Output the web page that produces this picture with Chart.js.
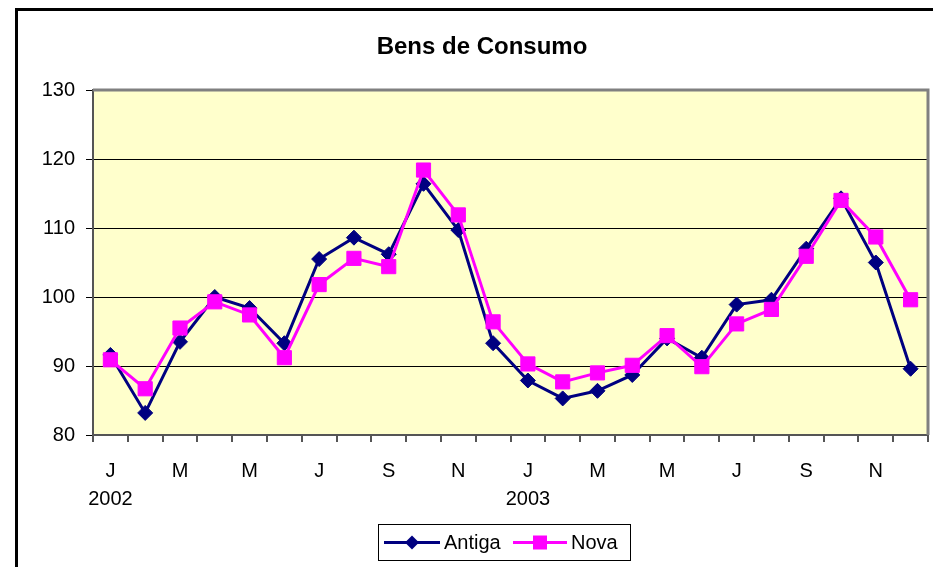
<!DOCTYPE html>
<html>
<head>
<meta charset="utf-8">
<script src="https://cdn.jsdelivr.net/npm/chart.js@4/dist/chart.umd.min.js"></script>
<style>
  html,body{margin:0;padding:0;background:#fff;}
  #wrap{width:933px;height:567px;position:relative;}
</style>
</head>
<body>
<div id="wrap"><canvas id="c" width="933" height="567"></canvas></div>
<script>
const chartTitle = 'Bens de Consumo';
const tickLabels = ['J','','M','','M','','J','','S','','N','','J','','M','','M','','J','','S','','N',''];
const yearLabels = ['2002','','','','','','','','','','','','2003','','','','','','','','','','',''];
const antiga = [91.6,83.2,93.5,100.0,98.4,93.3,105.5,108.6,106.2,116.4,109.7,93.3,87.9,85.3,86.4,88.7,94.0,91.2,98.9,99.6,107.0,114.3,105.0,89.6];
const nova   = [90.9,86.7,95.5,99.3,97.4,91.2,101.8,105.6,104.4,118.4,111.9,96.4,90.3,87.7,89.0,90.1,94.4,89.9,96.1,98.2,105.9,114.0,108.7,99.6];
const yMin = 80, yMax = 130, yStep = 10;

const FONT = "'Liberation Sans', Arial, sans-serif";

const framePlugin = {
  id: 'frame',
  beforeDraw(chart) {
    const {ctx, chartArea: a} = chart;
    ctx.save();
    ctx.fillStyle = '#ffffff';
    ctx.fillRect(0, 0, chart.width, chart.height);
    ctx.fillStyle = '#FFFFCC';
    ctx.fillRect(a.left, a.top, a.right - a.left, a.bottom - a.top);
    ctx.strokeStyle = '#000';
    ctx.lineWidth = 3;
    ctx.beginPath();
    ctx.moveTo(16.5, chart.height);
    ctx.lineTo(16.5, 9.5);
    ctx.lineTo(chart.width, 9.5);
    ctx.stroke();
    ctx.restore();
  },
  beforeDatasetsDraw(chart) {
    const {ctx, chartArea: a} = chart;
    ctx.save();
    ctx.strokeStyle = '#808080';
    ctx.lineWidth = 3;
    ctx.beginPath();
    ctx.moveTo(a.left, a.top);
    ctx.lineTo(a.right, a.top);
    ctx.lineTo(a.right, a.bottom);
    ctx.stroke();
    ctx.restore();
  },
  afterDraw(chart) {
    const {ctx} = chart;
    ctx.save();
    // title
    ctx.fillStyle = '#000';
    ctx.font = 'bold 24px ' + FONT;
    ctx.textAlign = 'center';
    ctx.textBaseline = 'middle';
    ctx.fillText(chartTitle, 482, 47);
    // legend
    const bx = 378.5, by = 524.5, bw = 252, bh = 36;
    ctx.fillStyle = '#fff';
    ctx.fillRect(bx, by, bw, bh);
    ctx.strokeStyle = '#000';
    ctx.lineWidth = 1;
    ctx.strokeRect(bx, by, bw, bh);
    const ly = by + bh / 2;
    const items = [
      {ds: chart.data.datasets[0], x0: 384, x1: 440, tx: 444},
      {ds: chart.data.datasets[1], x0: 513, x1: 567, tx: 571}
    ];
    ctx.font = '20px ' + FONT;
    ctx.textAlign = 'left';
    items.forEach(it => {
      ctx.strokeStyle = it.ds.borderColor;
      ctx.lineWidth = 3;
      ctx.beginPath();
      ctx.moveTo(it.x0, ly);
      ctx.lineTo(it.x1, ly);
      ctx.stroke();
      const cx = (it.x0 + it.x1) / 2;
      ctx.fillStyle = it.ds.pointBackgroundColor;
      ctx.beginPath();
      if (it.ds.pointStyle === 'rectRot') {
        const r = 7;
        ctx.moveTo(cx, ly - r); ctx.lineTo(cx + r, ly); ctx.lineTo(cx, ly + r); ctx.lineTo(cx - r, ly);
        ctx.closePath();
      } else {
        const s = 7;
        ctx.rect(cx - s, ly - s, 2 * s, 2 * s);
      }
      ctx.fill();
      ctx.fillStyle = '#000';
      ctx.fillText(it.ds.label, it.tx, ly + 1);
    });
    ctx.restore();
  }
};

new Chart(document.getElementById('c'), {
  type: 'line',
  data: {
    labels: tickLabels.map((t, i) => [t, yearLabels[i]]),
    datasets: [
      {
        label: 'Antiga',
        data: antiga,
        borderColor: '#000080',
        backgroundColor: '#000080',
        pointBackgroundColor: '#000080',
        pointBorderColor: '#000080',
        borderWidth: 3,
        pointStyle: 'rectRot',
        pointRadius: 7.5,
        pointBorderWidth: 1,
        tension: 0,
        clip: false,
        order: 2
      },
      {
        label: 'Nova',
        data: nova,
        borderColor: '#FF00FF',
        backgroundColor: '#FF00FF',
        pointBackgroundColor: '#FF00FF',
        pointBorderColor: '#FF00FF',
        borderWidth: 3,
        pointStyle: 'rect',
        pointRadius: 10,
        pointBorderWidth: 1,
        tension: 0,
        clip: false,
        order: 1
      }
    ]
  },
  options: {
    responsive: false,
    animation: false,
    devicePixelRatio: 1,
    layout: { autoPadding: false, padding: { left: 0, top: 90, right: 5, bottom: 0 } },
    plugins: {
      legend: { display: false },
      title: { display: false },
      tooltip: { enabled: false }
    },
    scales: {
      x: {
        type: 'category',
        offset: true,
        grid: {
          offset: true,
          drawOnChartArea: false,
          drawTicks: true,
          tickLength: 7,
          color: '#555555',
          lineWidth: 2
        },
        border: { display: true, color: '#555555', width: 2 },
        ticks: {
          autoSkip: false,
          maxRotation: 0,
          minRotation: 0,
          padding: 15,
          color: '#000',
          font: { family: FONT, size: 20, lineHeight: 1.4 }
        },
        afterFit(scale) {
          scale.height = 132;
          scale.paddingLeft = 0;
          scale.paddingRight = 0;
        }
      },
      y: {
        min: yMin,
        max: yMax,
        ticks: {
          stepSize: yStep,
          padding: 11,
          color: '#000',
          font: { family: FONT, size: 20 }
        },
        grid: {
          drawTicks: true,
          tickLength: 7,
          color: (c) => (c.tick && c.tick.value === yMax) ? 'rgba(0,0,0,0)' : '#000000',
          lineWidth: 1,
          tickColor: '#000000',
          tickWidth: 1
        },
        border: { display: true, color: '#555555', width: 2 },
        afterFit(scale) { scale.width = 93; }
      }
    }
  },
  plugins: [framePlugin]
});
</script>
</body>
</html>
